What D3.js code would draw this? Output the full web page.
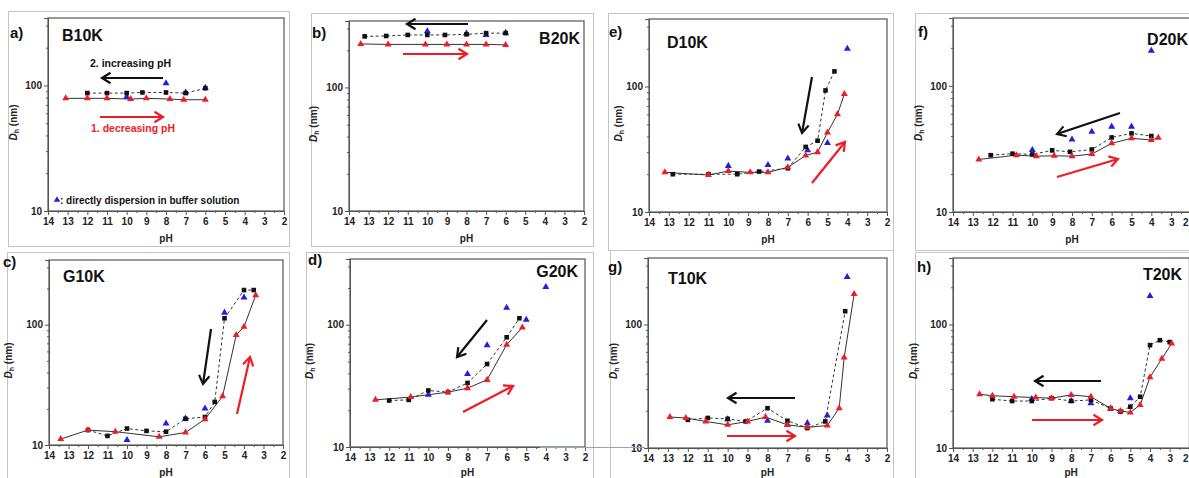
<!DOCTYPE html>
<html><head><meta charset="utf-8">
<script src="https://cdn.jsdelivr.net/npm/d3@7"></script>
<style>
body{margin:0;background:#fff;}
svg{display:block;font-family:"Liberation Sans",Arial,sans-serif;}
</style></head>
<body>
<svg id="chart" width="1189" height="478"></svg>
<script>
// ---------- data ----------
const pHTicks = [14,13,12,11,10,9,8,7,6,5,4,3,2];
const pHMinor = [13.5,12.5,11.5,10.5,9.5,8.5,7.5,6.5,5.5,4.5,3.5,2.5];
const yMajorTicks = [10,100];
const yMinorTicks = [20,30,40,50,60,70,80,90,200,300];

// red triangles: 1. decreasing pH (solid line); black squares: 2. increasing pH (dashed line); blue: direct dispersion
const B10K_decreasing = [[13.1,79],[12,79],[11,79],[9.8,78],[9,79],[7.8,78],[7.1,77],[6,77]];
const B10K_increasing = [[12,87],[11,87],[10,87],[9.2,88],[8,88],[7,87],[6,95]];
const B10K_direct     = [[10,81],[8,104],[7,88],[6,96]];

const B20K_decreasing = [[13.4,225],[12,223],[10.1,223],[9,223],[8,223],[7,223],[6,221]];
const B20K_increasing = [[13.2,259],[12.1,261],[11,266],[10,266],[9.1,266],[8,269],[7,275],[6,275]];
const B20K_direct     = [[10,285],[8,273],[7,266],[6,277]];

const D10K_decreasing = [[13.2,20.7],[11,19.7],[10,21.2],[8.9,20.7],[8,20.7],[7,22.7],[6.1,28.2],[5.5,30],[5,43],[4.5,60],[4.15,87]];
const D10K_increasing = [[12.8,20],[11,20],[9.55,20],[8.45,21],[7,22.3],[6.1,33],[5.5,37],[5.1,93],[4.65,132]];
const D10K_direct     = [[10,23.3],[8,23.7],[7,26.7],[6,31],[5,35.5],[4,200]];

const D20K_decreasing = [[12.7,26.1],[10.8,28.2],[9.8,27.7],[8.9,27.9],[8,27.7],[7,28.8],[6,35],[5,38.4],[4,37.2],[3.65,38.8]];
const D20K_increasing = [[12.1,28.2],[11,29],[10,28.6],[9,30.8],[8.1,30],[7,31.3],[6,39],[5,42],[4,40]];
const D20K_direct     = [[10,31],[8,37.6],[7,43.3],[6,47.5],[5,47.5],[4,190]];

const G10K_decreasing = [[13.4,11.2],[12,13.3],[10.6,12.9],[8.35,11.7],[7,12.7],[6,16.4],[5.1,25.4],[4.4,82],[4,96],[3.4,176]];
const G10K_increasing = [[12,13.3],[11,11.9],[10,13.7],[9,13.1],[8,12.9],[7,16.5],[6,17.1],[5.5,22.8],[5,113],[4,194],[3.5,194]];
const G10K_direct     = [[10,11],[8,15.1],[7,16.6],[6,20.1],[5,126],[4,168]];

const G20K_decreasing = [[12.7,24.3],[10.9,25.6],[9,28.1],[8,30.3],[7,35.4],[6,68.7],[5.2,95]];
const G20K_increasing = [[12,24],[11,24.3],[10,29],[9,28.1],[8,33.4],[7,47.7],[6,79],[5.35,113]];
const G20K_direct     = [[10,26.7],[8,39.6],[7,68],[6,138],[5,110],[4,204]];

const T10K_decreasing = [[12.9,17.8],[12.1,17.5],[11.1,16.4],[10,15.4],[9,16.4],[8.1,17.8],[7,15.4],[6,14.7],[5,15.2],[4.4,21],[4.15,54],[3.65,176]];
const T10K_increasing = [[12,16.9],[11,17.5],[10,17.2],[9.1,16.4],[8,21],[7,16.6],[6,14.5],[5.1,16.4],[4.1,128]];
const T10K_direct     = [[10,17.1],[8,16.6],[7,15.4],[6,15.9],[5,18.3],[4,242]];

const T20K_decreasing = [[12.65,27.2],[12,26.5],[10.9,26],[9.8,25.6],[9,25.3],[8,26.9],[7,26],[6,20.9],[5.5,19.9],[5,19.4],[4.5,22.3],[4,37.4],[3.4,52.8],[2.9,70]];
const T20K_increasing = [[12,24.8],[11,24],[10,24],[9,25.3],[8,24],[7,24.5],[6,20.9],[5.5,19.7],[5,21.6],[4.5,26],[4,68],[3.5,74.5],[3,72]];
const T20K_direct     = [[10,24.9],[8,24],[7,23],[6,20.9],[5,25.3],[4,170]];

const legendText = ": directly dispersion in buffer solution";

// ---------- layout ----------
const W = 1189;
const RED = "#ee1c25", BLUE = "#1f1fe0", BLACK = "#111", LINE = "#333";
const panels = [
  {letter:"a)", name:"B10K", dec:B10K_decreasing, inc:B10K_increasing, dir:B10K_direct,
   plot:{x:48,y:18,w:236,h:193}, border:{x:8,y:11,w:281,h:235}, lp:[10,38], np:[62,41,"start"], yt:14, xt:242,
   arrows:[{c:BLACK,x1:163,y1:78,x2:102,y2:78},{c:RED,x1:100,y1:117,x2:163,y2:117}], legend:true},
  {letter:"b)", name:"B20K", dec:B20K_decreasing, inc:B20K_increasing, dir:B20K_direct,
   plot:{x:349,y:21,w:235,h:190}, border:{x:311,y:13,w:282,h:233}, lp:[312,38], np:[580,44,"end"], yt:314, xt:242,
   arrows:[{c:BLACK,x1:468,y1:24,x2:407,y2:24},{c:RED,x1:403,y1:54,x2:467,y2:54}]},
  {letter:"e)", name:"D10K", dec:D10K_decreasing, inc:D10K_increasing, dir:D10K_direct,
   plot:{x:649,y:19,w:238,h:193}, border:{x:608,y:13,w:285,h:237}, lp:[609,37], np:[667,48,"start"], yt:619, xt:243,
   arrows:[{c:BLACK,x1:812,y1:77,x2:802,y2:133},{c:RED,x1:812,y1:183,x2:845,y2:142}]},
  {letter:"f)", name:"D20K", dec:D20K_decreasing, inc:D20K_increasing, dir:D20K_direct,
   plot:{x:953,y:18,w:238,h:194}, border:{x:915,y:13,w:280,h:237}, lp:[918,37], np:[1188,45,"end"], yt:919, xt:243,
   arrows:[{c:BLACK,x1:1120,y1:113,x2:1057,y2:134},{c:RED,x1:1057,y1:177,x2:1118,y2:159}]},
  {letter:"c)", name:"G10K", dec:G10K_decreasing, inc:G10K_increasing, dir:G10K_direct,
   plot:{x:49,y:260,w:234,h:185}, border:{x:7,y:252,w:282,h:232}, lp:[3,267], np:[63,282,"start"], yt:9, xt:476,
   arrows:[{c:BLACK,x1:211,y1:329,x2:203,y2:384},{c:RED,x1:237,y1:414,x2:250,y2:357}]},
  {letter:"d)", name:"G20K", dec:G20K_decreasing, inc:G20K_increasing, dir:G20K_direct,
   plot:{x:350,y:259,w:235,h:188}, border:{x:306,y:252,w:287,h:232}, lp:[308,265], np:[578,277,"end"], yt:310, xt:476,
   arrows:[{c:BLACK,x1:487,y1:320,x2:457,y2:357},{c:RED,x1:463,y1:412,x2:513,y2:386}]},
  {letter:"g)", name:"T10K", dec:T10K_decreasing, inc:T10K_increasing, dir:T10K_direct,
   plot:{x:648,y:258,w:239,h:190}, border:{x:610,y:250,w:283,h:234}, lp:[608,272], np:[668,284,"start"], yt:614, xt:476,
   arrows:[{c:BLACK,x1:795,y1:398,x2:728,y2:398},{c:RED,x1:727,y1:436,x2:795,y2:436}]},
  {letter:"h)", name:"T20K", dec:T20K_decreasing, inc:T20K_increasing, dir:T20K_direct,
   plot:{x:953,y:258,w:236.4,h:190}, border:{x:915,y:252,w:280,h:232}, lp:[917,272], np:[1182,280,"end"], yt:914, xt:476,
   arrows:[{c:BLACK,x1:1101,y1:381,x2:1035,y2:381},{c:RED,x1:1032,y1:420,x2:1102,y2:420}]}
];

const svg = d3.select("#chart");

function arrow(g, a){
  const ang = Math.atan2(a.y2-a.y1, a.x2-a.x1);
  g.append("line").attr("x1",a.x1).attr("y1",a.y1).attr("x2",a.x2).attr("y2",a.y2)
    .attr("stroke",a.c).attr("stroke-width",2.2);
  const L = 10, s = 0.55;
  const p = [ [a.x2 - L*Math.cos(ang-s), a.y2 - L*Math.sin(ang-s)], [a.x2,a.y2], [a.x2 - L*Math.cos(ang+s), a.y2 - L*Math.sin(ang+s)] ];
  g.append("path").attr("d", d3.line()(p)).attr("fill","none").attr("stroke",a.c).attr("stroke-width",2.2);
}

function triPath(size){ return d3.symbol().type(d3.symbolTriangle).size(size)(); }

panels.forEach(p => {
  svg.append("rect").attr("x",p.border.x+0.5).attr("y",p.border.y+0.5).attr("width",p.border.w).attr("height",p.border.h)
    .attr("fill","none").attr("stroke","#c4c4c4").attr("stroke-width",1);

  const x = d3.scaleLinear().domain([14,2]).range([0,p.plot.w]);
  const y = d3.scaleLog().domain([10,345]).range([p.plot.h,0]);
  const g = svg.append("g").attr("transform",`translate(${p.plot.x},${p.plot.y})`);

  const xAx = g.append("g").attr("transform",`translate(0,${p.plot.h})`)
    .call(d3.axisBottom(x).tickValues(pHTicks).tickSize(4).tickPadding(3).tickFormat(d3.format("d")));
  g.append("g").attr("transform",`translate(0,${p.plot.h})`)
    .call(d3.axisBottom(x).tickValues(pHMinor).tickSize(2).tickFormat(""));
  g.append("g")
    .call(d3.axisLeft(y).tickValues(yMajorTicks).tickSize(4).tickPadding(2).tickFormat(d3.format("d")));
  g.append("g").call(d3.axisLeft(y).tickValues(yMinorTicks).tickSize(2).tickFormat(""));
  g.selectAll(".domain").attr("stroke","#555");
  g.selectAll(".tick line").attr("stroke","#555");
  g.selectAll(".tick text").attr("font-size","10px").attr("font-weight","bold").attr("fill","#222")
    .attr("font-family","'Liberation Sans',Arial,sans-serif");
  // keep tick labels at the right window edge inside the picture
  xAx.selectAll(".tick text").each(function(d){
    if (p.plot.x + x(d) + 3 > W) d3.select(this).attr("text-anchor","end").attr("x", W - 1 - p.plot.x - x(d));
  });
  g.append("rect").attr("x",0).attr("y",0).attr("width",p.plot.w).attr("height",p.plot.h)
    .attr("fill","none").attr("stroke","#555").attr("stroke-width",1.2);

  const line = d3.line().x(d=>x(d[0])).y(d=>y(d[1]));
  g.append("path").attr("d",line(p.dec)).attr("fill","none").attr("stroke",LINE).attr("stroke-width",1);
  g.append("path").attr("d",line(p.inc)).attr("fill","none").attr("stroke",LINE).attr("stroke-width",1)
    .attr("stroke-dasharray","3,2.5");

  g.selectAll(".dir").data(p.dir).join("path").attr("class","dir")
    .attr("d",triPath(21)).attr("transform",d=>`translate(${x(d[0])},${y(d[1])})`).attr("fill",BLUE);
  g.selectAll(".inc").data(p.inc).join("rect").attr("class","inc")
    .attr("x",d=>x(d[0])-2.3).attr("y",d=>y(d[1])-2.3).attr("width",4.6).attr("height",4.6).attr("fill",BLACK);
  g.selectAll(".dec").data(p.dec).join("path").attr("class","dec")
    .attr("d",triPath(21)).attr("transform",d=>`translate(${x(d[0])},${y(d[1])})`).attr("fill",RED);

  svg.append("text").attr("x",p.plot.x+p.plot.w/2).attr("y",p.xt).attr("text-anchor","middle")
    .attr("font-size","10px").attr("font-weight","bold").attr("fill","#222").text("pH");
  const yt = svg.append("text").attr("transform",`translate(${p.yt + 3},${p.plot.y + p.plot.h/2 + 8}) rotate(-90)`)
    .attr("text-anchor","middle").attr("font-size","10px").attr("font-weight","bold").attr("fill","#222");
  yt.append("tspan").attr("font-style","italic").text("D");
  yt.append("tspan").attr("font-size","7px").attr("dy",2).text("h");
  yt.append("tspan").attr("dy",-2).text(" (nm)");

  svg.append("text").attr("x",p.lp[0]).attr("y",p.lp[1]).attr("font-size","15px").attr("font-weight","bold")
    .attr("fill","#111").text(p.letter);
  svg.append("text").attr("x",p.np[0]).attr("y",p.np[1]).attr("text-anchor",p.np[2]).attr("font-size","16px")
    .attr("font-weight","bold").attr("fill","#111").text(p.name);

  p.arrows.forEach(a => arrow(svg, a));

  if (p.legend){
    svg.append("text").attr("x",90).attr("y",67).attr("font-size","10.5px").attr("font-weight","bold").attr("fill","#111")
      .text("2. increasing  pH");
    svg.append("text").attr("x",91).attr("y",132).attr("font-size","10.5px").attr("font-weight","bold").attr("fill",RED)
      .text("1. decreasing  pH");
    svg.append("path").attr("d",triPath(18)).attr("transform","translate(57,200)").attr("fill",BLUE);
    svg.append("text").attr("x",60).attr("y",204).attr("font-size","10px").attr("font-weight","bold").attr("fill","#111")
      .text(legendText);
  }
});

svg.append("line").attr("x1",540).attr("y1",447.5).attr("x2",645).attr("y2",447.5)
  .attr("stroke","#8fa6bd").attr("stroke-width",1);
</script>
</body></html>
